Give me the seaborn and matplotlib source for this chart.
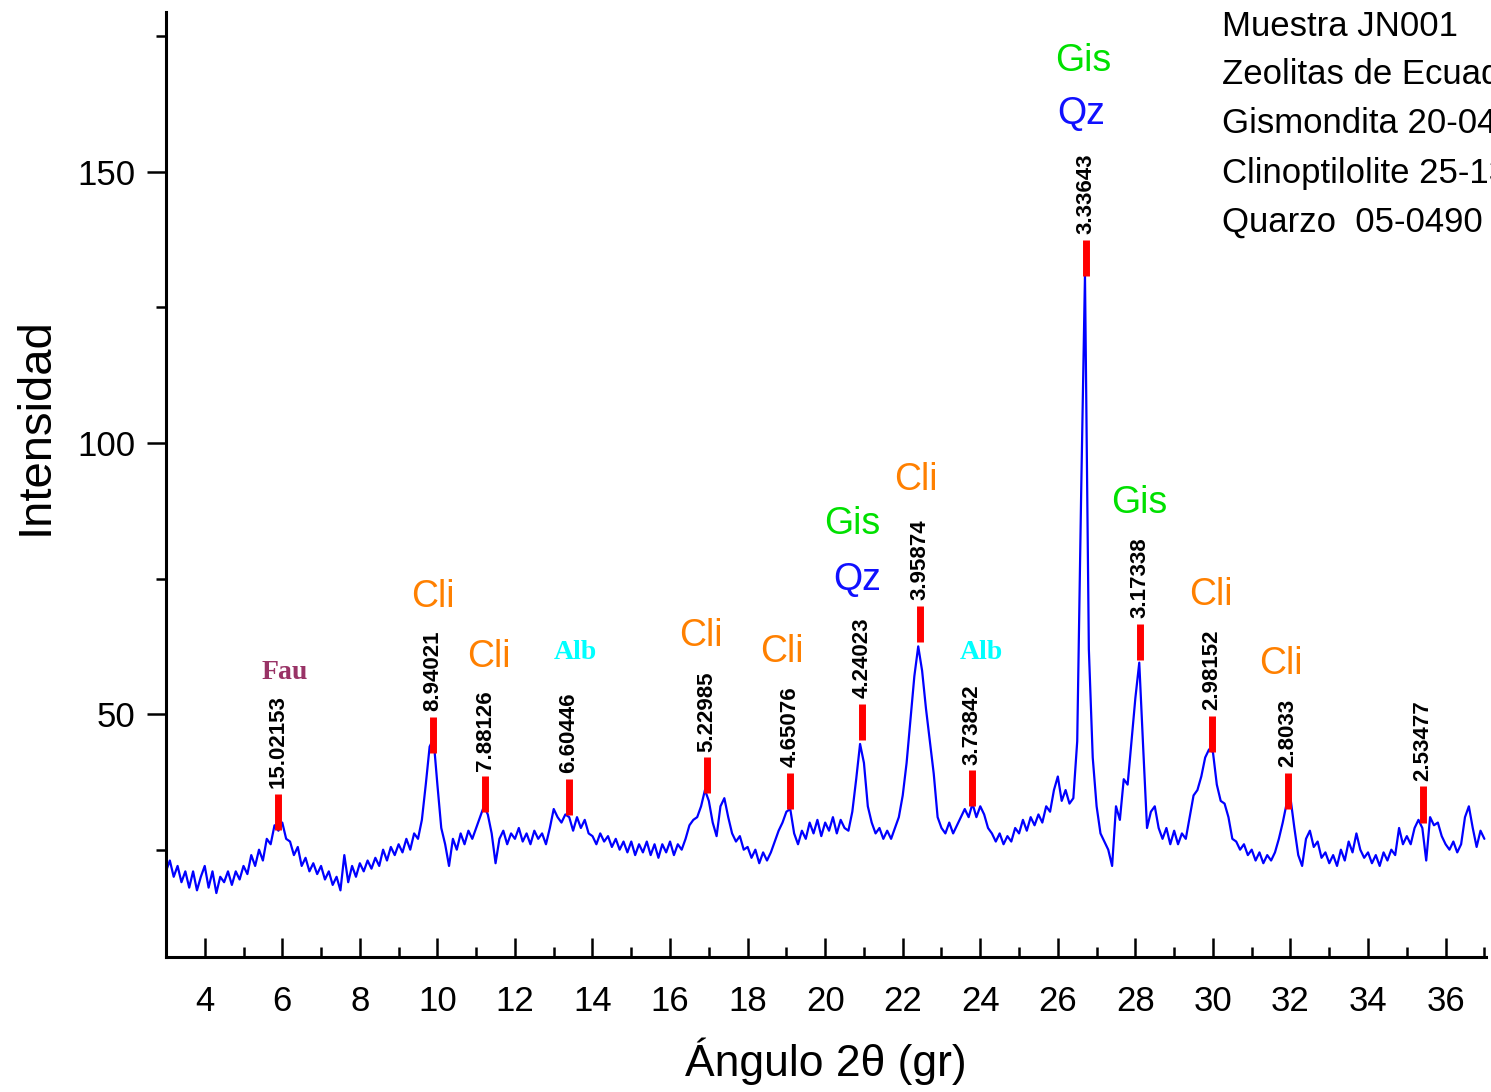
import numpy as np
import pandas as pd
import matplotlib
matplotlib.use('Agg')
import matplotlib.pyplot as plt
import seaborn as sns
from matplotlib.ticker import MultipleLocator

# difractograma (paso 0.1 grados, 3.0 a 37.0)
angulo_inicio = 3.0
angulo_paso = 0.1
intensidad = [
    21, 23, 20, 22, 19, 21, 18, 21, 17.5, 20,
    22, 18, 21, 17, 20, 19, 21, 18.5, 21, 19.5,
    22, 20.5, 24, 22, 25, 23, 27, 26, 29.5, 28.5,
    30, 27, 26.5, 24, 25.5, 22, 23.5, 21, 22.5, 20.5,
    22, 19.5, 21, 18.5, 20, 17.5, 24, 19, 22, 20,
    22.5, 21, 23, 21.5, 23.5, 22, 25, 23, 25.5, 24,
    26, 24.5, 27, 25, 28, 27, 30.5, 37, 44, 45.5,
    37, 29, 26, 22, 27, 25, 28, 26, 28.5, 27,
    29, 31, 33, 31.5, 28, 22.5, 27, 28.5, 26, 28,
    27, 29, 26.5, 28, 26, 28.5, 27, 28, 26, 29,
    32.5, 31, 30, 31.5, 31, 28.5, 31, 29, 30.5, 28,
    27.5, 26, 28, 26.5, 27.5, 25.5, 27, 25, 26.5, 24.5,
    26.5, 24, 26, 24.5, 26.5, 24, 26, 23.5, 26, 24.5,
    26.5, 24, 26, 25, 27, 29.5, 30.5, 31, 33, 36,
    34, 30, 27.5, 33, 34.5, 31, 28, 26.5, 27.5, 25,
    25.5, 23.5, 25, 22.5, 24.5, 23, 24.5, 26.5, 28.5, 30,
    32, 32.5, 28, 26, 28.5, 27, 30, 28, 30.5, 27.5,
    30, 28.5, 31, 28, 30.5, 29, 28.5, 32, 38, 44.5,
    41, 33, 30, 28, 29, 27, 28.5, 27, 29, 31,
    35, 41, 49, 57, 62.5, 58, 51, 45, 39, 31,
    29, 28, 30, 28, 29.5, 31, 32.5, 31, 33.5, 31,
    33, 31.5, 29, 28, 26.5, 28, 26, 27.5, 26.5, 29,
    28, 30.5, 28.5, 31, 29.5, 31.5, 30, 33, 32, 36,
    38.5, 34, 36, 33.5, 34.5, 45, 90, 131, 62, 42,
    33, 28, 26.5, 25, 22, 33, 30.5, 38, 37, 45,
    53, 59.5, 44, 29, 32, 33, 29, 27, 29, 26,
    28.5, 26, 28, 27, 31, 35, 36, 38.5, 42, 43.5,
    43, 37, 34, 33.5, 31, 27, 26.5, 25, 26, 24,
    25, 23, 24.5, 22.5, 24, 23, 24.5, 27, 30, 33.5,
    34.5, 29, 24, 22, 27, 28.5, 25.5, 26.5, 23.5, 24.5,
    22.5, 24, 22, 25, 23, 26.5, 24.5, 28, 25, 23.5,
    24.5, 22.5, 24, 22, 24.5, 23, 25, 24, 29, 26,
    27.5, 26, 29, 30.5, 29, 23, 31, 29.5, 30, 27.5,
    26, 25, 26.5, 24.5, 26, 31, 33, 29, 25.5, 28.5,
    27,
]

# picos marcados (2theta, altura de la marca roja, distancia d)
pico_angulo = [5.89, 9.885, 11.23, 13.39, 16.95, 19.09, 20.95,
               22.44, 23.78, 26.72, 28.12, 29.97, 31.93, 35.41]
pico_base = [28.6, 42.8, 31.9, 31.4, 35.4, 32.5, 45.2,
             63.3, 33.0, 130.8, 60.0, 43.0, 32.5, 30.0]
pico_d = ['15.02153', '8.94021', '7.88126', '6.60446', '5.22985', '4.65076',
          '4.24023', '3.95874', '3.73842', '3.33643', '3.17338', '2.98152',
          '2.8033', '2.53477']

# fases identificadas
fase_texto = ['Fau', 'Cli', 'Cli', 'Alb', 'Cli', 'Cli', 'Gis', 'Qz', 'Cli',
              'Alb', 'Gis', 'Qz', 'Gis', 'Cli', 'Cli']
fase_x = [6.07, 9.89, 11.33, 13.55, 16.8, 18.88, 20.71, 20.82, 22.34,
          24.02, 26.65, 26.6, 28.09, 29.95, 31.75]
fase_y = [57.6, 71.6, 60.5, 61.4, 64.4, 61.4, 85.0, 74.7, 93.1,
          61.4, 170.5, 160.7, 89.0, 72.0, 59.2]

leyenda = ['Muestra JN001', 'Zeolitas de Ecuador', 'Gismondita 20-0452',
           'Clinoptilolite 25-1349', 'Quarzo  05-0490']

colores_fase = {'Cli': '#ff8000', 'Gis': '#00e000', 'Qz': '#1010ff',
                'Alb': '#00ffff', 'Fau': '#993366'}

sns.set_style('ticks')
plt.rcParams['font.family'] = ['Liberation Sans', 'DejaVu Sans']
plt.rcParams['text.color'] = 'black'
plt.rcParams['axes.labelcolor'] = 'black'
plt.rcParams['axes.edgecolor'] = 'black'
plt.rcParams['xtick.color'] = 'black'
plt.rcParams['ytick.color'] = 'black'

angulo = angulo_inicio + angulo_paso * np.arange(len(intensidad))
df = pd.DataFrame({'angulo': angulo, 'intensidad': intensidad})

fig = plt.figure(figsize=(14.91, 10.92), dpi=100)
ax = fig.add_axes([0.1113, 0.1236, 0.8853, 0.8654])

sns.lineplot(data=df, x='angulo', y='intensidad', ax=ax, color='#0000ff',
             linewidth=1.6, sort=False)

largo = 6.7
ax.vlines(pico_angulo, pico_base, [b + largo for b in pico_base],
          color='#ff0000', linewidth=5, zorder=3)
for xa, b, d in zip(pico_angulo, pico_base, pico_d):
    ax.text(xa, b + largo + 1.0, d, rotation=90, ha='center', va='bottom',
            fontsize=16, fontweight='bold', color='black')

for t, xa, ya in zip(fase_texto, fase_x, fase_y):
    if t in ('Alb', 'Fau'):
        ax.text(xa, ya, t, ha='center', va='center', fontsize=20,
                fontweight='bold', family='Liberation Serif',
                color=colores_fase[t])
    else:
        ax.text(xa, ya, t, ha='center', va='center', fontsize=27,
                color=colores_fase[t])

# bloque de texto arriba a la derecha (recortado por el borde como en el original)
leyenda_y = [176.8, 167.9, 158.9, 149.8, 140.8]
for t, ya in zip(leyenda, leyenda_y):
    ax.text(30.23, ya, t, ha='left', va='center', fontsize=25,
            color='black', clip_on=False)

ax.set_xlim(3, 37.04)
ax.set_ylim(5.2, 179.5)
ax.set_xticks(range(4, 37, 2))
ax.xaxis.set_minor_locator(MultipleLocator(1))
ax.yaxis.set_major_locator(MultipleLocator(50))
ax.yaxis.set_minor_locator(MultipleLocator(25))
ax.tick_params(axis='x', which='major', direction='in', length=14, width=1.8,
               labelsize=25, pad=20)
ax.tick_params(axis='x', which='minor', direction='in', length=7, width=1.8)
ax.tick_params(axis='y', which='major', direction='out', length=14, width=1.8,
               labelsize=25, pad=8)
ax.tick_params(axis='y', which='minor', direction='out', length=7, width=1.8)

sns.despine(ax=ax)
for s in ['left', 'bottom']:
    ax.spines[s].set_linewidth(2.2)

ax.set_xlabel('Ángulo 2θ (gr)', fontsize=32, labelpad=14)
ax.set_ylabel('Intensidad', fontsize=34)
ax.yaxis.set_label_coords(-0.082, 0.562)

fig.savefig('out.png', dpi=100)
